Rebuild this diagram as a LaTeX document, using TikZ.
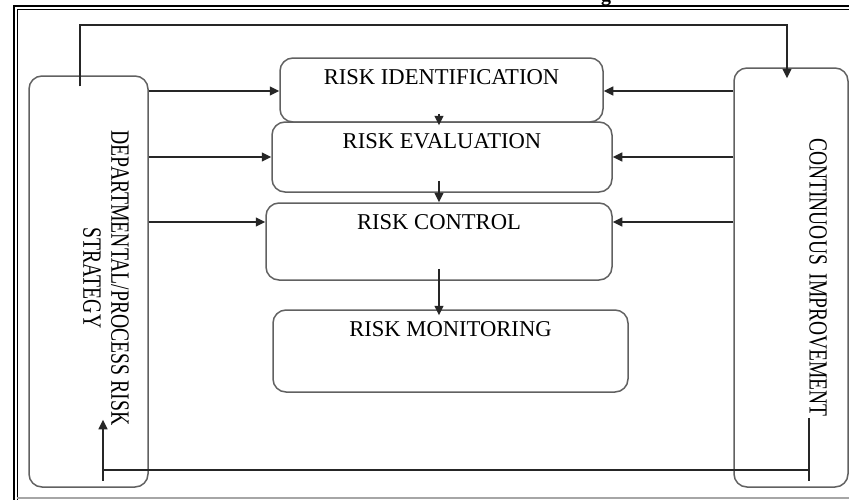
\documentclass[tikz,border=0pt]{standalone}
\usepackage{fontspec}
\setmainfont{Liberation Serif}
\usetikzlibrary{arrows.meta,calc}
\tikzset{
  box/.style={draw=black!62, line width=1.5pt, rounded corners=13pt, inner sep=0pt, fill=none},
  ttl/.style={anchor=base, inner sep=0pt, font=\fontsize{22.6}{24}\selectfont},
  vtxt/.style={rotate=-90, inner sep=0pt},
  conn/.style={draw=black!85, line width=1.6pt},
  arr/.style={conn, -{Triangle[length=9.5pt,width=9pt]}},
}
\begin{document}
\begin{tikzpicture}[x=1pt,y=-1pt]
\useasboundingbox (0,0) rectangle (849,499);
\fill[white] (0,0) rectangle (849,499);
% outer frame
\draw[line width=2.3pt] (13.7,505) -- (13.7,6) -- (855,6);
\draw[line width=1pt] (17.2,505) -- (17.2,9.6) -- (855,9.6);
\draw[black!35, line width=1.3pt] (17.2,498) -- (855,498);
\node[anchor=base, inner sep=0pt, font=\fontsize{20}{22}\selectfont\bfseries] (gfrag) at (606,1) {g};
% boxes
\node[box, minimum width=119pt, minimum height=411pt] (lbox) at (88.5,281.5) {};
\node[box, minimum width=114pt, minimum height=419pt] (rbox) at (791,277.5) {};
\node[box, minimum width=323pt, minimum height=64pt] (id) at (441.5,90) {};
\node[box, minimum width=340pt, minimum height=70pt] (ev) at (442,157) {};
\node[box, minimum width=346pt, minimum height=77pt] (ctl) at (439,241.5) {};
\node[box, minimum width=355pt, minimum height=82pt] (mon) at (450.5,351) {};
% titles
\node[ttl] (idt) at ([yshift=-27pt]id.north) {RISK IDENTIFICATION};
\node[ttl] (evt) at ([yshift=-27pt]ev.north) {RISK EVALUATION};
\node[ttl] (ctlt) at ([yshift=-27pt]ctl.north) {RISK CONTROL};
\node[ttl] (mont) at ([yshift=-27pt]mon.north) {RISK MONITORING};
\node[vtxt] (ltxt) at (103,278) {\scalebox{1}[1.34]{\fontsize{19.7}{20.9}\selectfont\begin{tabular}{@{}c@{}}DEPARTMENTAL/PROCESS RISK\\STRATEGY\end{tabular}}};
\node[vtxt] (rtxt) at (818,277.5) {\scalebox{1}[1.34]{\fontsize{19.5}{20.9}\selectfont CONTINUOUS\hspace{0.45em}IMPROVEMENT}};
% side arrows
\coordinate (h1) at (0,91);
\coordinate (h2) at (0,157);
\coordinate (h3) at (0,222);
\draw[arr] (lbox.east |- h1) -- (id.west |- h1);
\draw[arr] (lbox.east |- h2) -- (ev.west |- h2);
\draw[arr] (lbox.east |- h3) -- (ctl.west |- h3);
\draw[arr] (rbox.west |- h1) -- (id.east |- h1);
\draw[arr] (rbox.west |- h2) -- (ev.east |- h2);
\draw[arr] (rbox.west |- h3) -- (ctl.east |- h3);
% vertical flow arrows
\draw[arr] ([xshift=-2.5pt,yshift=9pt]id.south) -- ([xshift=-3pt,yshift=-4pt]ev.north);
\draw[arr] ([yshift=12pt]ev.south -| ctl.north) -- (ctl.north);
\draw[arr] ([yshift=12pt]ctl.south) -- ([yshift=-6pt]ctl.south |- mon.north);
% top loop
\coordinate (tl) at ([xshift=-8.5pt,yshift=-11pt]lbox.north);
\coordinate (tr) at (787,25);
\coordinate (tt) at ([xshift=-4pt,yshift=-11pt]rbox.north);
\draw[arr] (tl) |- (tr) -| (tt);
% bottom loop
\coordinate (rs) at ([xshift=18pt,yshift=70pt]rbox.south);
\coordinate (re) at ([xshift=18pt,yshift=7pt]rbox.south);
\coordinate (rm) at ([xshift=18pt,yshift=18pt]rbox.south);
\coordinate (ls) at ([xshift=14.5pt,yshift=7pt]lbox.south);
\coordinate (lm) at ([xshift=14.5pt,yshift=18pt]lbox.south);
\coordinate (lt) at ([xshift=14.5pt,yshift=68pt]lbox.south);
\draw[conn] (rs) -- (re);
\draw[conn] (rm) -- (lm);
\draw[arr] (ls) -- (lt);
\end{tikzpicture}
\end{document}
